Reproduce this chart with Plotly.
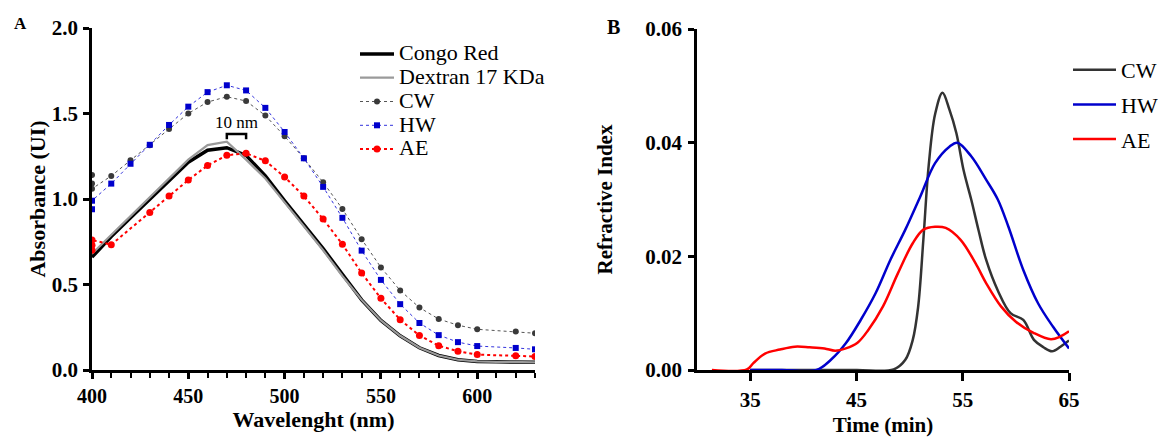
import plotly.graph_objects as go

# ---------------- Panel A data ----------------
wl_cr = [400, 410, 420, 430, 440, 450, 460, 470, 480, 490, 500, 510, 520, 530, 540, 550, 560, 570, 580, 590, 600, 610, 620, 630]
congo_red = [0.66, 0.78, 0.89, 1.00, 1.11, 1.215, 1.285, 1.30, 1.255, 1.135, 0.99, 0.85, 0.71, 0.56, 0.41, 0.29, 0.20, 0.13, 0.085, 0.06, 0.05, 0.048, 0.047, 0.045]
dextran = [0.68, 0.79, 0.90, 1.01, 1.12, 1.23, 1.315, 1.335, 1.23, 1.12, 0.98, 0.84, 0.70, 0.55, 0.41, 0.29, 0.20, 0.13, 0.085, 0.06, 0.05, 0.048, 0.047, 0.045]

wl_cw = [400, 400, 400, 410, 420, 430, 440, 450, 460, 470, 480, 490, 500, 510, 520, 530, 540, 550, 560, 570, 580, 590, 600, 620, 630]
cw = [1.14, 1.09, 1.06, 1.135, 1.227, 1.315, 1.41, 1.50, 1.567, 1.598, 1.573, 1.488, 1.367, 1.238, 1.098, 0.942, 0.765, 0.60, 0.465, 0.365, 0.298, 0.262, 0.238, 0.225, 0.215]

wl_hw = [400, 400, 410, 420, 430, 440, 450, 460, 470, 480, 490, 500, 510, 520, 530, 540, 550, 560, 570, 580, 590, 600, 620, 630]
hw = [0.94, 0.99, 1.09, 1.206, 1.317, 1.433, 1.54, 1.625, 1.665, 1.635, 1.533, 1.392, 1.238, 1.071, 0.89, 0.698, 0.527, 0.385, 0.275, 0.204, 0.163, 0.14, 0.129, 0.121]

wl_ae = [400, 400, 400, 410, 430, 440, 450, 460, 470, 480, 490, 500, 510, 520, 530, 540, 550, 560, 570, 580, 590, 600, 620, 630]
ae = [0.70, 0.73, 0.76, 0.733, 0.921, 1.017, 1.111, 1.196, 1.256, 1.267, 1.223, 1.129, 1.017, 0.883, 0.735, 0.567, 0.419, 0.294, 0.202, 0.142, 0.11, 0.09, 0.083, 0.079]

bracket_x = [470, 480]
bracket_y = [1.35, 1.38]

# ---------------- Panel B data ----------------
t_cw = [35, 40, 45, 48.5, 49.6, 50.3, 50.8, 51.3, 51.8, 52.4, 53.1, 53.75, 54.4, 55.1, 55.8, 56.5, 57.2, 58.3, 59.5, 60.7, 61.7, 62.6, 63.4, 64.2, 65]
ri_cw = [0, 0, 0, 0.0001, 0.0018, 0.0053, 0.011, 0.023, 0.036, 0.045, 0.0488, 0.0458, 0.0417, 0.035, 0.030, 0.0245, 0.0194, 0.014, 0.010, 0.0088, 0.0053, 0.004, 0.0033, 0.0041, 0.0052]

t_hw = [35, 38, 41.25, 42.6, 44, 45.4, 46.8, 48.2, 49.6, 51, 52.4, 53.75, 54.5, 55.8, 57.2, 58.3, 59.3, 60.7, 62.1, 63.5, 65]
ri_hw = [0, 0, 0, 0.0018, 0.0047, 0.0088, 0.0135, 0.0194, 0.0247, 0.0305, 0.0364, 0.0393, 0.040, 0.0376, 0.0335, 0.030, 0.0252, 0.0176, 0.0117, 0.0076, 0.0038]

t_ae = [31.4, 34.7, 35.3, 36.4, 37.8, 39.2, 40.6, 42, 43, 44, 45.1, 46.1, 47.5, 48.9, 50.3, 51.3, 52.4, 53.4, 54.8, 56.2, 57.2, 58.6, 60, 61.7, 63.3, 64.2, 65]
ri_ae = [0, 0.0001, 0.0012, 0.0029, 0.0036, 0.0041, 0.004, 0.0038, 0.0034, 0.0038, 0.0048, 0.007, 0.0112, 0.017, 0.0223, 0.0247, 0.0252, 0.025, 0.0229, 0.0188, 0.0153, 0.0112, 0.0085, 0.0065, 0.0054, 0.0059, 0.0068]

SERIF = "Liberation Serif"

def big(label, px=22):
    # larger rendered text inside a compact legend row
    return f'<span style="font-size:{px}px">{label}</span>'

fig = go.Figure()

# Panel A traces
fig.add_trace(go.Scatter(x=wl_cr, y=congo_red, name=big("Congo Red"), mode="lines",
                         line=dict(color="black", width=3.5), xaxis="x", yaxis="y", legend="legend"))
fig.add_trace(go.Scatter(x=wl_cr, y=dextran, name=big("Dextran 17 KDa"), mode="lines",
                         line=dict(color="#9a9a9a", width=2.2), xaxis="x", yaxis="y", legend="legend"))
fig.add_trace(go.Scatter(x=wl_cw, y=cw, name=big("CW"), mode="lines+markers",
                         line=dict(color="#555555", width=1, dash="dot"),
                         marker=dict(color="#3a3a3a", size=6, symbol="circle"),
                         xaxis="x", yaxis="y", legend="legend"))
fig.add_trace(go.Scatter(x=wl_hw, y=hw, name=big("HW"), mode="lines+markers",
                         line=dict(color="#3333dd", width=1, dash="dot"),
                         marker=dict(color="#0000cc", size=6, symbol="square"),
                         xaxis="x", yaxis="y", legend="legend"))
fig.add_trace(go.Scatter(x=wl_ae, y=ae, name=big("AE"), mode="lines+markers",
                         line=dict(color="#ff0000", width=2, dash="dot"),
                         marker=dict(color="#ff0000", size=7, symbol="circle"),
                         xaxis="x", yaxis="y", legend="legend"))

# Panel B traces
fig.add_trace(go.Scatter(x=t_cw, y=ri_cw, name="CW", mode="lines", line=dict(color="#333333", width=2.5, shape="spline"),
                         xaxis="x2", yaxis="y2", legend="legend2", legendgroup="b1"))
fig.add_trace(go.Scatter(x=t_hw, y=ri_hw, name="HW", mode="lines", line=dict(color="#0000cc", width=2.5, shape="spline"),
                         xaxis="x2", yaxis="y2", legend="legend2", legendgroup="b2"))
fig.add_trace(go.Scatter(x=t_ae, y=ri_ae, name="AE", mode="lines", line=dict(color="#ff0000", width=2.5, shape="spline"),
                         xaxis="x2", yaxis="y2", legend="legend2", legendgroup="b3"))

W, H = 1158, 439
def ax_style(size, ticklen=6, standoff=2):
    return dict(showgrid=False, zeroline=False, showline=True, linecolor="black", linewidth=2.5,
                ticks="outside", tickcolor="black", tickwidth=2.5, ticklen=ticklen, ticklabelstandoff=standoff,
                tickfont=dict(family=SERIF, size=size, color="black", weight="bold"))

title_font = lambda s: dict(family=SERIF, size=s, color="black", weight="bold")

fig.update_layout(
    width=W, height=H, autosize=False,
    margin=dict(l=0, r=0, t=0, b=0, autoexpand=False),
    paper_bgcolor="white", plot_bgcolor="white",
    font=dict(family=SERIF, color="black"),
    xaxis=dict(domain=[92 / W, 535 / W], range=[400, 630], tickvals=[400, 450, 500, 550, 600],
               minor=dict(dtick=10, tick0=400, ticks="outside", ticklen=5, tickwidth=2, tickcolor="black"),
               title=dict(text="Wavelenght (nm)", font=title_font(22), standoff=1),
               anchor="y", **ax_style(20, 6, 0)),
    yaxis=dict(domain=[1 - 370 / H, 1 - 28 / H], range=[0, 2.0], tickvals=[0, 0.5, 1.0, 1.5, 2.0],
               ticktext=["0.0", "0.5", "1.0", "1.5", "2.0"],
               title=dict(text="Absorbance (UI)", font=title_font(22), standoff=1),
               anchor="x", **ax_style(21, 6, 1)),
    xaxis2=dict(domain=[697 / W, 1069 / W], range=[30, 65], tickvals=[35, 45, 55, 65],
                title=dict(text="Time (min)", font=title_font(21), standoff=7),
                anchor="y2", **ax_style(21, 8, 1)),
    yaxis2=dict(domain=[1 - 370 / H, 1 - 29 / H], range=[0, 0.06], tickvals=[0, 0.02, 0.04, 0.06],
                ticktext=["0.00", "0.02", "0.04", "0.06"],
                title=dict(text="Refractive Index", font=title_font(21), standoff=27),
                anchor="x2", **ax_style(21, 6, 2)),
    legend=dict(x=355 / W, y=1 - 37 / H, xanchor="left", yanchor="top",
                font=dict(family=SERIF, size=16, color="black"), bgcolor="rgba(0,0,0,0)",
                tracegroupgap=0, itemwidth=34),
    legend2=dict(x=1068 / W, y=1 - 49 / H, xanchor="left", yanchor="top",
                 font=dict(family=SERIF, size=22, color="black"), bgcolor="rgba(0,0,0,0)",
                 tracegroupgap=3, itemwidth=43),
    showlegend=True,
)

# 10 nm bracket
fig.add_shape(type="path", xref="x", yref="y",
              path=f"M{bracket_x[0]},{bracket_y[0]} L{bracket_x[0]},{bracket_y[1]} L{bracket_x[1]},{bracket_y[1]} L{bracket_x[1]},{bracket_y[0]}",
              line=dict(color="black", width=2.5))
fig.add_annotation(x=(bracket_x[0] + bracket_x[1]) / 2, y=bracket_y[1], xref="x", yref="y", text="10 nm",
                   showarrow=False, yanchor="bottom", yshift=0, font=dict(family=SERIF, size=17, color="black"))

# Panel letters
fig.add_annotation(x=20 / W, y=1 - 24 / H, xref="paper", yref="paper", text="<b>A</b>", showarrow=False,
                   xanchor="center", yanchor="middle", font=dict(family=SERIF, size=17, color="black"))
fig.add_annotation(x=613 / W, y=1 - 27 / H, xref="paper", yref="paper", text="<b>B</b>", showarrow=False,
                   xanchor="center", yanchor="middle", font=dict(family=SERIF, size=20, color="black"))

fig.write_html("out.html")
